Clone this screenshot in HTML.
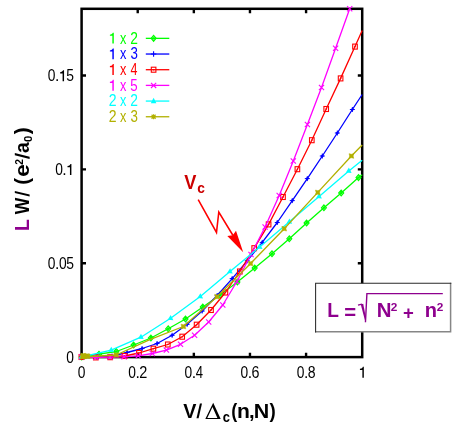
<!DOCTYPE html>
<html><head><meta charset="utf-8"><title>chart</title>
<style>
html,body{margin:0;padding:0;background:#fff;}
body{width:452px;height:424px;overflow:hidden;}
svg{display:block;}
text{font-family:"Liberation Sans",sans-serif;}
.tk{font-size:15px;fill:#000;}
.lg{font-size:15.2px;}
.b{font-weight:bold;}
</style></head><body>
<svg width="452" height="424" viewBox="0 0 452 424">
<rect width="452" height="424" fill="#fff"/>
<defs><filter id="ga" filterUnits="userSpaceOnUse" x="0" y="0" width="452" height="424"><feOffset dx="0" dy="0"/></filter><clipPath id="cp"><rect x="80.1" y="7.500000000000001" width="281.0" height="351.5"/></clipPath></defs>

<rect x="81.6" y="8.8" width="280.6" height="348.3" fill="none" stroke="#000" stroke-width="2.5"/>
<path d="M137.72 357.1v-4.4M137.72 8.8v4.4M193.84 357.1v-4.4M193.84 8.8v4.4M249.96 357.1v-4.4M249.96 8.8v4.4M306.08 357.1v-4.4M306.08 8.8v4.4M81.6 263.25h4.4M362.2 263.25h-4.4M81.6 169.40h4.4M362.2 169.40h-4.4M81.6 75.55h4.4M362.2 75.55h-4.4" stroke="#000" stroke-width="2.4" fill="none"/>
<path d="M81.70 357.00L99.00 354.20L116.30 351.50L133.60 345.00L150.90 338.00L168.20 328.80L185.50 319.00L202.80 307.00L220.10 295.00L237.40 282.00L254.70 268.00L272.00 253.70L289.30 238.80L306.60 223.00L323.90 207.80L341.20 193.00L358.50 177.60L362.20 174.80" fill="none" stroke="#00ff00" stroke-width="1.3" stroke-linejoin="round"/>
<path d="M79.2 357L81.7 354.1L84.2 357L81.7 359.9Z" fill="#00ff00" fill-opacity="0.3" stroke="#00ff00" stroke-width="1.15"/><circle cx="81.7" cy="357" r="1.2" fill="#00ff00"/>
<path d="M96.5 354.2L99.0 351.3L101.5 354.2L99.0 357.09999999999997Z" fill="#00ff00" fill-opacity="0.3" stroke="#00ff00" stroke-width="1.15"/><circle cx="99.0" cy="354.2" r="1.2" fill="#00ff00"/>
<path d="M113.8 351.5L116.3 348.6L118.8 351.5L116.3 354.4Z" fill="#00ff00" fill-opacity="0.3" stroke="#00ff00" stroke-width="1.15"/><circle cx="116.3" cy="351.5" r="1.2" fill="#00ff00"/>
<path d="M131.1 345L133.6 342.1L136.1 345L133.6 347.9Z" fill="#00ff00" fill-opacity="0.3" stroke="#00ff00" stroke-width="1.15"/><circle cx="133.6" cy="345" r="1.2" fill="#00ff00"/>
<path d="M148.4 338L150.9 335.1L153.4 338L150.9 340.9Z" fill="#00ff00" fill-opacity="0.3" stroke="#00ff00" stroke-width="1.15"/><circle cx="150.9" cy="338" r="1.2" fill="#00ff00"/>
<path d="M165.7 328.8L168.2 325.90000000000003L170.7 328.8L168.2 331.7Z" fill="#00ff00" fill-opacity="0.3" stroke="#00ff00" stroke-width="1.15"/><circle cx="168.2" cy="328.8" r="1.2" fill="#00ff00"/>
<path d="M183.0 319L185.5 316.1L188.0 319L185.5 321.9Z" fill="#00ff00" fill-opacity="0.3" stroke="#00ff00" stroke-width="1.15"/><circle cx="185.5" cy="319" r="1.2" fill="#00ff00"/>
<path d="M200.3 307L202.8 304.1L205.3 307L202.8 309.9Z" fill="#00ff00" fill-opacity="0.3" stroke="#00ff00" stroke-width="1.15"/><circle cx="202.8" cy="307" r="1.2" fill="#00ff00"/>
<path d="M217.6 295L220.1 292.1L222.6 295L220.1 297.9Z" fill="#00ff00" fill-opacity="0.3" stroke="#00ff00" stroke-width="1.15"/><circle cx="220.1" cy="295" r="1.2" fill="#00ff00"/>
<path d="M234.9 282L237.4 279.1L239.9 282L237.4 284.9Z" fill="#00ff00" fill-opacity="0.3" stroke="#00ff00" stroke-width="1.15"/><circle cx="237.4" cy="282" r="1.2" fill="#00ff00"/>
<path d="M252.2 268L254.7 265.1L257.2 268L254.7 270.9Z" fill="#00ff00" fill-opacity="0.3" stroke="#00ff00" stroke-width="1.15"/><circle cx="254.7" cy="268" r="1.2" fill="#00ff00"/>
<path d="M269.5 253.7L272.0 250.79999999999998L274.5 253.7L272.0 256.59999999999997Z" fill="#00ff00" fill-opacity="0.3" stroke="#00ff00" stroke-width="1.15"/><circle cx="272.0" cy="253.7" r="1.2" fill="#00ff00"/>
<path d="M286.8 238.8L289.3 235.9L291.8 238.8L289.3 241.70000000000002Z" fill="#00ff00" fill-opacity="0.3" stroke="#00ff00" stroke-width="1.15"/><circle cx="289.3" cy="238.8" r="1.2" fill="#00ff00"/>
<path d="M304.1 223L306.6 220.1L309.1 223L306.6 225.9Z" fill="#00ff00" fill-opacity="0.3" stroke="#00ff00" stroke-width="1.15"/><circle cx="306.6" cy="223" r="1.2" fill="#00ff00"/>
<path d="M321.4 207.8L323.9 204.9L326.4 207.8L323.9 210.70000000000002Z" fill="#00ff00" fill-opacity="0.3" stroke="#00ff00" stroke-width="1.15"/><circle cx="323.9" cy="207.8" r="1.2" fill="#00ff00"/>
<path d="M338.7 193L341.2 190.1L343.7 193L341.2 195.9Z" fill="#00ff00" fill-opacity="0.3" stroke="#00ff00" stroke-width="1.15"/><circle cx="341.2" cy="193" r="1.2" fill="#00ff00"/>
<path d="M356.0 177.6L358.5 174.7L361.0 177.6L358.5 180.5Z" fill="#00ff00" fill-opacity="0.3" stroke="#00ff00" stroke-width="1.15"/><circle cx="358.5" cy="177.6" r="1.2" fill="#00ff00"/>
<path d="M82.00 357.00L97.02 357.00L112.04 356.00L127.06 352.50L142.08 348.50L157.10 343.50L172.12 335.30L187.14 324.30L202.16 311.00L217.18 295.50L232.20 278.60L247.22 260.80L262.24 242.40L277.26 222.50L292.28 200.60L307.30 178.60L322.32 156.00L337.34 133.00L352.36 109.50L362.20 94.50" fill="none" stroke="#0000ff" stroke-width="1.3" stroke-linejoin="round"/>
<path d="M79.5 357H84.5M82.0 354.5V359.5" stroke="#0000ff" stroke-width="1.0" fill="none"/><path d="M80.2 357L82.0 355.2L83.8 357L82.0 358.8Z" fill="#0000ff"/>
<path d="M94.52 357H99.52M97.02 354.5V359.5" stroke="#0000ff" stroke-width="1.0" fill="none"/><path d="M95.22 357L97.02 355.2L98.82 357L97.02 358.8Z" fill="#0000ff"/>
<path d="M109.54 356H114.54M112.04 353.5V358.5" stroke="#0000ff" stroke-width="1.0" fill="none"/><path d="M110.24000000000001 356L112.04 354.2L113.84 356L112.04 357.8Z" fill="#0000ff"/>
<path d="M124.56 352.5H129.56M127.06 350.0V355.0" stroke="#0000ff" stroke-width="1.0" fill="none"/><path d="M125.26 352.5L127.06 350.7L128.86 352.5L127.06 354.3Z" fill="#0000ff"/>
<path d="M139.58 348.5H144.58M142.08 346.0V351.0" stroke="#0000ff" stroke-width="1.0" fill="none"/><path d="M140.28 348.5L142.08 346.7L143.88000000000002 348.5L142.08 350.3Z" fill="#0000ff"/>
<path d="M154.6 343.5H159.6M157.1 341.0V346.0" stroke="#0000ff" stroke-width="1.0" fill="none"/><path d="M155.29999999999998 343.5L157.1 341.7L158.9 343.5L157.1 345.3Z" fill="#0000ff"/>
<path d="M169.62 335.3H174.62M172.12 332.8V337.8" stroke="#0000ff" stroke-width="1.0" fill="none"/><path d="M170.32 335.3L172.12 333.5L173.92000000000002 335.3L172.12 337.1Z" fill="#0000ff"/>
<path d="M184.64 324.3H189.64M187.14 321.8V326.8" stroke="#0000ff" stroke-width="1.0" fill="none"/><path d="M185.33999999999997 324.3L187.14 322.5L188.94 324.3L187.14 326.1Z" fill="#0000ff"/>
<path d="M199.66 311H204.66M202.16 308.5V313.5" stroke="#0000ff" stroke-width="1.0" fill="none"/><path d="M200.35999999999999 311L202.16 309.2L203.96 311L202.16 312.8Z" fill="#0000ff"/>
<path d="M214.68 295.5H219.68M217.18 293.0V298.0" stroke="#0000ff" stroke-width="1.0" fill="none"/><path d="M215.38 295.5L217.18 293.7L218.98000000000002 295.5L217.18 297.3Z" fill="#0000ff"/>
<path d="M229.7 278.6H234.7M232.2 276.1V281.1" stroke="#0000ff" stroke-width="1.0" fill="none"/><path d="M230.39999999999998 278.6L232.2 276.8L234.0 278.6L232.2 280.40000000000003Z" fill="#0000ff"/>
<path d="M244.72 260.8H249.72M247.22 258.3V263.3" stroke="#0000ff" stroke-width="1.0" fill="none"/><path d="M245.42 260.8L247.22 259.0L249.02 260.8L247.22 262.6Z" fill="#0000ff"/>
<path d="M259.74 242.4H264.74M262.24 239.9V244.9" stroke="#0000ff" stroke-width="1.0" fill="none"/><path d="M260.44 242.4L262.24 240.6L264.04 242.4L262.24 244.20000000000002Z" fill="#0000ff"/>
<path d="M274.76 222.5H279.76M277.26 220.0V225.0" stroke="#0000ff" stroke-width="1.0" fill="none"/><path d="M275.46 222.5L277.26 220.7L279.06 222.5L277.26 224.3Z" fill="#0000ff"/>
<path d="M289.78 200.6H294.78M292.28 198.1V203.1" stroke="#0000ff" stroke-width="1.0" fill="none"/><path d="M290.47999999999996 200.6L292.28 198.79999999999998L294.08 200.6L292.28 202.4Z" fill="#0000ff"/>
<path d="M304.8 178.6H309.8M307.3 176.1V181.1" stroke="#0000ff" stroke-width="1.0" fill="none"/><path d="M305.5 178.6L307.3 176.79999999999998L309.1 178.6L307.3 180.4Z" fill="#0000ff"/>
<path d="M319.82 156H324.82M322.32 153.5V158.5" stroke="#0000ff" stroke-width="1.0" fill="none"/><path d="M320.52 156L322.32 154.2L324.12 156L322.32 157.8Z" fill="#0000ff"/>
<path d="M334.84 133H339.84M337.34 130.5V135.5" stroke="#0000ff" stroke-width="1.0" fill="none"/><path d="M335.53999999999996 133L337.34 131.2L339.14 133L337.34 134.8Z" fill="#0000ff"/>
<path d="M349.86 109.5H354.86M352.36 107.0V112.0" stroke="#0000ff" stroke-width="1.0" fill="none"/><path d="M350.56 109.5L352.36 107.7L354.16 109.5L352.36 111.3Z" fill="#0000ff"/>
<path d="M81.40 357.00L95.80 357.40L110.20 357.20L124.60 356.00L139.00 353.00L153.40 348.70L167.80 344.50L182.20 336.70L196.60 324.70L211.00 310.00L225.40 292.50L239.80 271.50L254.20 248.20L268.60 224.40L283.00 197.00L297.40 169.20L311.80 140.20L326.20 109.00L340.60 78.40L355.00 46.60L362.20 30.50" fill="none" stroke="#ff0000" stroke-width="1.3" stroke-linejoin="round"/>
<rect x="79.10000000000001" y="354.5" width="4.6" height="5.0" fill="none" stroke="#ff0000" stroke-width="1.1"/><circle cx="81.4" cy="357" r="0.8" fill="#ff0000"/>
<rect x="93.5" y="354.9" width="4.6" height="5.0" fill="none" stroke="#ff0000" stroke-width="1.1"/><circle cx="95.8" cy="357.4" r="0.8" fill="#ff0000"/>
<rect x="107.9" y="354.7" width="4.6" height="5.0" fill="none" stroke="#ff0000" stroke-width="1.1"/><circle cx="110.2" cy="357.2" r="0.8" fill="#ff0000"/>
<rect x="122.3" y="353.5" width="4.6" height="5.0" fill="none" stroke="#ff0000" stroke-width="1.1"/><circle cx="124.6" cy="356" r="0.8" fill="#ff0000"/>
<rect x="136.7" y="350.5" width="4.6" height="5.0" fill="none" stroke="#ff0000" stroke-width="1.1"/><circle cx="139.0" cy="353" r="0.8" fill="#ff0000"/>
<rect x="151.1" y="346.2" width="4.6" height="5.0" fill="none" stroke="#ff0000" stroke-width="1.1"/><circle cx="153.4" cy="348.7" r="0.8" fill="#ff0000"/>
<rect x="165.5" y="342.0" width="4.6" height="5.0" fill="none" stroke="#ff0000" stroke-width="1.1"/><circle cx="167.8" cy="344.5" r="0.8" fill="#ff0000"/>
<rect x="179.89999999999998" y="334.2" width="4.6" height="5.0" fill="none" stroke="#ff0000" stroke-width="1.1"/><circle cx="182.2" cy="336.7" r="0.8" fill="#ff0000"/>
<rect x="194.29999999999998" y="322.2" width="4.6" height="5.0" fill="none" stroke="#ff0000" stroke-width="1.1"/><circle cx="196.6" cy="324.7" r="0.8" fill="#ff0000"/>
<rect x="208.7" y="307.5" width="4.6" height="5.0" fill="none" stroke="#ff0000" stroke-width="1.1"/><circle cx="211.0" cy="310" r="0.8" fill="#ff0000"/>
<rect x="223.1" y="290.0" width="4.6" height="5.0" fill="none" stroke="#ff0000" stroke-width="1.1"/><circle cx="225.4" cy="292.5" r="0.8" fill="#ff0000"/>
<rect x="237.5" y="269.0" width="4.6" height="5.0" fill="none" stroke="#ff0000" stroke-width="1.1"/><circle cx="239.8" cy="271.5" r="0.8" fill="#ff0000"/>
<rect x="251.89999999999998" y="245.7" width="4.6" height="5.0" fill="none" stroke="#ff0000" stroke-width="1.1"/><circle cx="254.2" cy="248.2" r="0.8" fill="#ff0000"/>
<rect x="266.3" y="221.9" width="4.6" height="5.0" fill="none" stroke="#ff0000" stroke-width="1.1"/><circle cx="268.6" cy="224.4" r="0.8" fill="#ff0000"/>
<rect x="280.7" y="194.5" width="4.6" height="5.0" fill="none" stroke="#ff0000" stroke-width="1.1"/><circle cx="283.0" cy="197" r="0.8" fill="#ff0000"/>
<rect x="295.09999999999997" y="166.7" width="4.6" height="5.0" fill="none" stroke="#ff0000" stroke-width="1.1"/><circle cx="297.4" cy="169.2" r="0.8" fill="#ff0000"/>
<rect x="309.5" y="137.7" width="4.6" height="5.0" fill="none" stroke="#ff0000" stroke-width="1.1"/><circle cx="311.8" cy="140.2" r="0.8" fill="#ff0000"/>
<rect x="323.9" y="106.5" width="4.6" height="5.0" fill="none" stroke="#ff0000" stroke-width="1.1"/><circle cx="326.2" cy="109" r="0.8" fill="#ff0000"/>
<rect x="338.3" y="75.9" width="4.6" height="5.0" fill="none" stroke="#ff0000" stroke-width="1.1"/><circle cx="340.6" cy="78.4" r="0.8" fill="#ff0000"/>
<rect x="352.7" y="44.1" width="4.6" height="5.0" fill="none" stroke="#ff0000" stroke-width="1.1"/><circle cx="355.0" cy="46.6" r="0.8" fill="#ff0000"/>
<path d="M81.80 357.00L95.90 357.30L110.00 357.10L124.10 356.80L138.20 355.80L152.30 353.50L166.40 350.10L180.50 344.30L194.60 335.20L208.70 322.00L222.80 305.00L236.90 281.50L251.00 254.50L265.10 227.00L279.20 195.50L293.30 161.00L307.40 124.50L321.50 87.50L335.60 48.20L349.70 8.70" fill="none" stroke="#ff00ff" stroke-width="1.3" stroke-linejoin="round"/>
<path d="M79.2 354.4L84.39999999999999 359.6M79.2 359.6L84.39999999999999 354.4" stroke="#ff00ff" stroke-width="1.1" fill="none"/>
<path d="M93.30000000000001 354.7L98.5 359.90000000000003M93.30000000000001 359.90000000000003L98.5 354.7" stroke="#ff00ff" stroke-width="1.1" fill="none"/>
<path d="M107.4 354.5L112.6 359.70000000000005M107.4 359.70000000000005L112.6 354.5" stroke="#ff00ff" stroke-width="1.1" fill="none"/>
<path d="M121.5 354.2L126.69999999999999 359.40000000000003M121.5 359.40000000000003L126.69999999999999 354.2" stroke="#ff00ff" stroke-width="1.1" fill="none"/>
<path d="M135.6 353.2L140.79999999999998 358.40000000000003M135.6 358.40000000000003L140.79999999999998 353.2" stroke="#ff00ff" stroke-width="1.1" fill="none"/>
<path d="M149.70000000000002 350.9L154.9 356.1M149.70000000000002 356.1L154.9 350.9" stroke="#ff00ff" stroke-width="1.1" fill="none"/>
<path d="M163.8 347.5L169.0 352.70000000000005M163.8 352.70000000000005L169.0 347.5" stroke="#ff00ff" stroke-width="1.1" fill="none"/>
<path d="M177.9 341.7L183.1 346.90000000000003M177.9 346.90000000000003L183.1 341.7" stroke="#ff00ff" stroke-width="1.1" fill="none"/>
<path d="M192.0 332.59999999999997L197.2 337.8M192.0 337.8L197.2 332.59999999999997" stroke="#ff00ff" stroke-width="1.1" fill="none"/>
<path d="M206.1 319.4L211.29999999999998 324.6M206.1 324.6L211.29999999999998 319.4" stroke="#ff00ff" stroke-width="1.1" fill="none"/>
<path d="M220.20000000000002 302.4L225.4 307.6M220.20000000000002 307.6L225.4 302.4" stroke="#ff00ff" stroke-width="1.1" fill="none"/>
<path d="M234.3 278.9L239.5 284.1M234.3 284.1L239.5 278.9" stroke="#ff00ff" stroke-width="1.1" fill="none"/>
<path d="M248.4 251.9L253.6 257.1M248.4 257.1L253.6 251.9" stroke="#ff00ff" stroke-width="1.1" fill="none"/>
<path d="M262.5 224.4L267.70000000000005 229.6M262.5 229.6L267.70000000000005 224.4" stroke="#ff00ff" stroke-width="1.1" fill="none"/>
<path d="M276.59999999999997 192.9L281.8 198.1M276.59999999999997 198.1L281.8 192.9" stroke="#ff00ff" stroke-width="1.1" fill="none"/>
<path d="M290.7 158.4L295.90000000000003 163.6M290.7 163.6L295.90000000000003 158.4" stroke="#ff00ff" stroke-width="1.1" fill="none"/>
<path d="M304.79999999999995 121.9L310.0 127.1M304.79999999999995 127.1L310.0 121.9" stroke="#ff00ff" stroke-width="1.1" fill="none"/>
<path d="M318.9 84.9L324.1 90.1M318.9 90.1L324.1 84.9" stroke="#ff00ff" stroke-width="1.1" fill="none"/>
<path d="M333.0 45.6L338.20000000000005 50.800000000000004M333.0 50.800000000000004L338.20000000000005 45.6" stroke="#ff00ff" stroke-width="1.1" fill="none"/>
<path d="M347.09999999999997 6.1L352.3 11.299999999999999M347.09999999999997 11.299999999999999L352.3 6.1" stroke="#ff00ff" stroke-width="1.1" fill="none"/>
<path d="M81.50 357.00L111.20 350.20L140.90 337.20L170.60 318.30L200.30 296.60L230.00 271.60L259.70 247.00L289.40 221.80L319.10 196.50L348.80 171.00L362.20 160.30" fill="none" stroke="#00ffff" stroke-width="1.3" stroke-linejoin="round"/>
<path d="M78.60 358.50L81.60 353.60L84.30 358.90Z" fill="#00ffff"/>
<path d="M108.30 351.70L111.30 346.80L114.00 352.10Z" fill="#00ffff"/>
<path d="M138.00 338.70L141.00 333.80L143.70 339.10Z" fill="#00ffff"/>
<path d="M167.70 319.80L170.70 314.90L173.40 320.20Z" fill="#00ffff"/>
<path d="M197.40 298.10L200.40 293.20L203.10 298.50Z" fill="#00ffff"/>
<path d="M227.10 273.10L230.10 268.20L232.80 273.50Z" fill="#00ffff"/>
<path d="M256.80 248.50L259.80 243.60L262.50 248.90Z" fill="#00ffff"/>
<path d="M286.50 223.30L289.50 218.40L292.20 223.70Z" fill="#00ffff"/>
<path d="M316.20 198.00L319.20 193.10L321.90 198.40Z" fill="#00ffff"/>
<path d="M345.90 172.50L348.90 167.60L351.60 172.90Z" fill="#00ffff"/>
<path d="M82.60 357.00L116.20 355.00L149.80 339.60L183.40 326.50L217.00 296.70L250.60 263.50L284.20 228.70L317.80 192.40L351.40 156.00L362.20 145.00" fill="none" stroke="#b2b000" stroke-width="1.3" stroke-linejoin="round"/>
<path d="M80.25 354.65L82.6 355.25L84.94999999999999 354.65L84.35 357L84.94999999999999 359.35L82.6 358.75L80.25 359.35L80.85 357Z" fill="#b2b000" stroke="#b2b000" stroke-width="0.5" stroke-linejoin="round"/>
<path d="M113.85000000000001 352.65L116.2 353.25L118.55 352.65L117.95 355L118.55 357.35L116.2 356.75L113.85000000000001 357.35L114.45 355Z" fill="#b2b000" stroke="#b2b000" stroke-width="0.5" stroke-linejoin="round"/>
<path d="M181.05 324.15L183.4 324.75L185.75 324.15L185.15 326.5L185.75 328.85L183.4 328.25L181.05 328.85L181.65 326.5Z" fill="#b2b000" stroke="#b2b000" stroke-width="0.5" stroke-linejoin="round"/>
<path d="M214.65 294.34999999999997L217.0 294.95L219.35 294.34999999999997L218.75 296.7L219.35 299.05L217.0 298.45L214.65 299.05L215.25 296.7Z" fill="#b2b000" stroke="#b2b000" stroke-width="0.5" stroke-linejoin="round"/>
<path d="M248.25 261.15L250.6 261.75L252.95 261.15L252.35 263.5L252.95 265.85L250.6 265.25L248.25 265.85L248.85 263.5Z" fill="#b2b000" stroke="#b2b000" stroke-width="0.5" stroke-linejoin="round"/>
<path d="M281.84999999999997 226.35L284.2 226.95L286.55 226.35L285.95 228.7L286.55 231.04999999999998L284.2 230.45L281.84999999999997 231.04999999999998L282.45 228.7Z" fill="#b2b000" stroke="#b2b000" stroke-width="0.5" stroke-linejoin="round"/>
<path d="M315.45 190.05L317.8 190.65L320.15000000000003 190.05L319.55 192.4L320.15000000000003 194.75L317.8 194.15L315.45 194.75L316.05 192.4Z" fill="#b2b000" stroke="#b2b000" stroke-width="0.5" stroke-linejoin="round"/>
<path d="M349.04999999999995 153.65L351.4 154.25L353.75 153.65L353.15 156L353.75 158.35L351.4 157.75L349.04999999999995 158.35L349.65 156Z" fill="#b2b000" stroke="#b2b000" stroke-width="0.5" stroke-linejoin="round"/>
<path d="M82.05000000000001 353.95L84.4 354.55L86.75 353.95L86.15 356.3L86.75 358.65000000000003L84.4 358.05L82.05000000000001 358.65000000000003L82.65 356.3Z" fill="#b2b000" stroke="#b2b000" stroke-width="0.5" stroke-linejoin="round"/>
<path d="M83.85000000000001 353.65L86.2 354.25L88.55 353.65L87.95 356.0L88.55 358.35L86.2 357.75L83.85000000000001 358.35L84.45 356.0Z" fill="#b2b000" stroke="#b2b000" stroke-width="0.5" stroke-linejoin="round"/>
<path d="M85.35000000000001 353.84999999999997L87.7 354.45L90.05 353.84999999999997L89.45 356.2L90.05 358.55L87.7 357.95L85.35000000000001 358.55L85.95 356.2Z" fill="#b2b000" stroke="#b2b000" stroke-width="0.5" stroke-linejoin="round"/>
<path d="M80.85000000000001 353.25L83.2 353.85L85.55 353.25L84.95 355.6L85.55 357.95000000000005L83.2 357.35L80.85000000000001 357.95000000000005L81.45 355.6Z" fill="#b2b000" stroke="#b2b000" stroke-width="0.5" stroke-linejoin="round"/>
<g filter="url(#ga)">
<text transform="translate(77.77 377.80) scale(0.874 1)" font-size="15.8" fill="#000">0</text>
<text transform="translate(128.36 377.80) scale(0.874 1)" font-size="15.8" fill="#000">0</text><text transform="translate(135.53 377.80) scale(0.997 1)" font-size="15.8" fill="#000">.</text><text transform="translate(139.22 377.80) scale(0.917 1)" font-size="15.8" fill="#000">2</text>
<text transform="translate(184.48 377.80) scale(0.874 1)" font-size="15.8" fill="#000">0</text><text transform="translate(191.65 377.80) scale(0.997 1)" font-size="15.8" fill="#000">.</text><text transform="translate(195.77 377.80) scale(0.829 1)" font-size="15.8" fill="#000">4</text>
<text transform="translate(240.60 377.80) scale(0.874 1)" font-size="15.8" fill="#000">0</text><text transform="translate(247.77 377.80) scale(0.997 1)" font-size="15.8" fill="#000">.</text><text transform="translate(251.46 377.80) scale(0.905 1)" font-size="15.8" fill="#000">6</text>
<text transform="translate(296.72 377.80) scale(0.874 1)" font-size="15.8" fill="#000">0</text><text transform="translate(303.89 377.80) scale(0.997 1)" font-size="15.8" fill="#000">.</text><text transform="translate(307.70 377.80) scale(0.890 1)" font-size="15.8" fill="#000">8</text>
<path d="M363.83 377.80V366.77H362.88L362.38 367.66Q361.73 368.74 359.93 368.79V369.97H362.38V377.80Z" fill="#000"/>
<text transform="translate(66.24 362.80) scale(0.874 1)" font-size="15.8" fill="#000">0</text>
<text transform="translate(47.84 268.95) scale(0.874 1)" font-size="15.8" fill="#000">0</text><text transform="translate(55.01 268.95) scale(0.997 1)" font-size="15.8" fill="#000">.</text><text transform="translate(58.89 268.95) scale(0.874 1)" font-size="15.8" fill="#000">0</text><text transform="translate(66.22 268.95) scale(0.881 1)" font-size="15.8" fill="#000">5</text>
<text transform="translate(55.19 175.10) scale(0.874 1)" font-size="15.8" fill="#000">0</text><text transform="translate(62.36 175.10) scale(0.997 1)" font-size="15.8" fill="#000">.</text><path d="M71.40 175.10V164.07H70.45L69.95 164.96Q69.30 166.04 67.50 166.09V167.27H69.95V175.10Z" fill="#000"/>
<text transform="translate(47.84 81.25) scale(0.874 1)" font-size="15.8" fill="#000">0</text><text transform="translate(55.01 81.25) scale(0.997 1)" font-size="15.8" fill="#000">.</text><path d="M64.05 81.25V70.22H63.10L62.60 71.11Q61.95 72.19 60.15 72.24V73.42H62.60V81.25Z" fill="#000"/><text transform="translate(66.22 81.25) scale(0.881 1)" font-size="15.8" fill="#000">5</text>
<path d="M113.80 43.60V32.71H112.85L112.35 33.59Q111.70 34.66 109.90 34.70V35.87H112.35V43.60Z" fill="#00ff00"/>
<text transform="translate(119.96 43.60) scale(0.818 1)" font-size="15.6" fill="#00ff00">x</text>
<text transform="translate(130.20 43.60) scale(0.886 1)" font-size="15.6" fill="#00ff00">2</text>
<path d="M145.8 38.35H169.3" stroke="#00ff00" stroke-width="1.3"/>
<path d="M151.1 38.35L153.6 35.45L156.1 38.35L153.6 41.25Z" fill="#00ff00" fill-opacity="0.3" stroke="#00ff00" stroke-width="1.15"/><circle cx="153.6" cy="38.35" r="1.2" fill="#00ff00"/>
<path d="M113.80 59.28V48.39H112.85L112.35 49.27Q111.70 50.34 109.90 50.38V51.55H112.35V59.28Z" fill="#0000ff"/>
<text transform="translate(119.96 59.28) scale(0.818 1)" font-size="15.6" fill="#0000ff">x</text>
<text transform="translate(130.39 59.28) scale(0.852 1)" font-size="15.6" fill="#0000ff">3</text>
<path d="M145.8 54.03H169.3" stroke="#0000ff" stroke-width="1.3"/>
<path d="M150.79999999999998 54.03H156.4M153.6 51.230000000000004V56.83" stroke="#0000ff" stroke-width="1.1" fill="none"/>
<path d="M113.80 74.96V64.07H112.85L112.35 64.95Q111.70 66.02 109.90 66.06V67.23H112.35V74.96Z" fill="#ff0000"/>
<text transform="translate(119.96 74.96) scale(0.818 1)" font-size="15.6" fill="#ff0000">x</text>
<text transform="translate(130.61 74.96) scale(0.801 1)" font-size="15.6" fill="#ff0000">4</text>
<path d="M145.8 69.71H169.3" stroke="#ff0000" stroke-width="1.3"/>
<rect x="151.29999999999998" y="67.21" width="4.6" height="5.0" fill="none" stroke="#ff0000" stroke-width="1.1"/><circle cx="153.6" cy="69.71" r="0.8" fill="#ff0000"/>
<path d="M113.80 90.64V79.75H112.85L112.35 80.63Q111.70 81.70 109.90 81.74V82.91H112.35V90.64Z" fill="#ff00ff"/>
<text transform="translate(119.96 90.64) scale(0.818 1)" font-size="15.6" fill="#ff00ff">x</text>
<text transform="translate(130.37 90.64) scale(0.852 1)" font-size="15.6" fill="#ff00ff">5</text>
<path d="M145.8 85.39H169.3" stroke="#ff00ff" stroke-width="1.3"/>
<path d="M151.0 82.79L156.2 87.99M151.0 87.99L156.2 82.79" stroke="#ff00ff" stroke-width="1.1" fill="none"/>
<text transform="translate(108.79 106.32) scale(0.901 1)" font-size="15.6" fill="#00ffff">2</text>
<text transform="translate(119.96 106.32) scale(0.818 1)" font-size="15.6" fill="#00ffff">x</text>
<text transform="translate(130.20 106.32) scale(0.886 1)" font-size="15.6" fill="#00ffff">2</text>
<path d="M145.8 101.07H169.3" stroke="#00ffff" stroke-width="1.3"/>
<path d="M150.79999999999998 103.27L153.6 97.86999999999999L156.4 103.27Z" fill="#00ffff"/>
<text transform="translate(108.79 122.00) scale(0.901 1)" font-size="15.6" fill="#b2b000">2</text>
<text transform="translate(119.96 122.00) scale(0.818 1)" font-size="15.6" fill="#b2b000">x</text>
<text transform="translate(130.39 122.00) scale(0.852 1)" font-size="15.6" fill="#b2b000">3</text>
<path d="M145.8 116.75H169.3" stroke="#b2b000" stroke-width="1.3"/>
<path d="M151.0 116.75H156.2M153.6 114.15V119.35M151.6 114.75L155.6 118.75M151.6 118.75L155.6 114.75" stroke="#b2b000" stroke-width="1.1" fill="none"/><circle cx="153.6" cy="116.75" r="1.3" fill="#b2b000"/>
<text transform="translate(184.28 188.60) scale(0.872 1)" font-size="20.9" font-weight="bold" fill="#cc0000">V</text>
<text transform="translate(197.16 193.00) scale(0.954 1)" font-size="14.4" font-weight="bold" fill="#cc0000">c</text>
<path d="M198.2 199.7L216.5 232.4L218.8 212L233 235.5" fill="none" stroke="#ff0000" stroke-width="1.55" stroke-linejoin="miter" stroke-miterlimit="10"/>
<path d="M243.2 252.3L227.3 236.1L232.7 235.2L236 230.7Z" fill="#ff0000"/>
<g transform="translate(29.1 229.8) rotate(-90)"><text transform="translate(-1.30 0.00) scale(0.951 1)" font-size="20.5" font-weight="bold" fill="#8e008e">L</text><text transform="translate(15.58 0.00) scale(0.855 1)" font-size="20.5" font-weight="bold" fill="#000">W</text><path d="M36.7 -14.3H38.8L35.4 0.5H33.3Z" fill="#000"/><text transform="translate(45.09 0.00) scale(0.985 1)" font-size="20.5" font-weight="bold" fill="#000">(</text><text transform="translate(52.93 0.00) scale(1.091 1)" font-size="20.5" font-weight="bold" fill="#000">e</text><text transform="translate(64.95 -6.40) scale(0.960 1)" font-size="10.6" font-weight="bold" fill="#000">2</text><path d="M74.6 -14.3H76.8L73.0 0.5H70.8Z" fill="#000"/><text transform="translate(76.73 0.00) scale(0.942 1)" font-size="20.5" font-weight="bold" fill="#000">a</text><text transform="translate(87.85 2.70) scale(1.051 1)" font-size="10.8" font-weight="bold" fill="#000">0</text><text transform="translate(95.48 0.00) scale(1.020 1)" font-size="20.5" font-weight="bold" fill="#000">)</text></g>
<text transform="translate(183.17 417.60) scale(0.973 1)" font-size="20.3" font-weight="bold" fill="#000">V</text>
<path d="M199.9 403.6H202.0L198.6 418.3H196.5Z" fill="#000"/>
<path d="M205.3 419.1L213.2 402.8L220.7 419.1ZM207.3 417.9H217.4L212.5 406.9Z" fill="#000" fill-rule="evenodd"/>
<text transform="translate(222.80 422.00) scale(0.936 1)" font-size="13.8" font-weight="bold" fill="#000">c</text>
<text transform="translate(231.30 417.60) scale(0.890 1)" font-size="20.3" font-weight="bold" fill="#000">(</text>
<text transform="translate(236.91 417.60) scale(1.040 1)" font-size="20.3" font-weight="bold" fill="#000">n</text>
<text transform="translate(248.92 417.60) scale(0.999 1)" font-size="20.3" font-weight="bold" fill="#000">,</text>
<text transform="translate(253.77 417.60) scale(1.056 1)" font-size="20.3" font-weight="bold" fill="#000">N</text>
<text transform="translate(269.38 417.60) scale(0.925 1)" font-size="20.3" font-weight="bold" fill="#000">)</text>
<rect x="315.6" y="283.3" width="135" height="48.6" fill="#fff"/>
<path d="M315.1 331.85H450.6V282.8" fill="none" stroke="#868686" stroke-width="1.5"/>
<path d="M315.6 332.4V283.3H451.3" fill="none" stroke="#2a2a2a" stroke-width="1.05"/>
<text transform="translate(327.22 317.20) scale(0.914 1)" font-size="20.9" font-weight="bold" fill="#8e008e">L</text>
<text transform="translate(344.26 319.00) scale(1.043 1)" font-size="19.5" font-weight="bold" fill="#8e008e">=</text>
<path d="M360.8 304.4L363.2 303.7L366.0 318.0L365.5 322.4Z" fill="#8e008e"/>
<path d="M358.0 305.1L362.0 304.1M365.45 322.2L366.9 293.6H442.8" fill="none" stroke="#8e008e" stroke-width="1.4" stroke-linejoin="miter"/>
<text transform="translate(376.83 317.20) scale(0.977 1)" font-size="20.9" font-weight="bold" fill="#8e008e">N</text>
<text transform="translate(390.69 311.00) scale(1.003 1)" font-size="11.8" font-weight="bold" fill="#8e008e">2</text>
<text transform="translate(403.12 319.20) scale(0.976 1)" font-size="19" font-weight="bold" fill="#8e008e">+</text>
<text transform="translate(424.68 317.20) scale(0.961 1)" font-size="20.9" font-weight="bold" fill="#8e008e">n</text>
<text transform="translate(436.69 311.00) scale(1.003 1)" font-size="11.8" font-weight="bold" fill="#8e008e">2</text>
</g>
</svg></body></html>
